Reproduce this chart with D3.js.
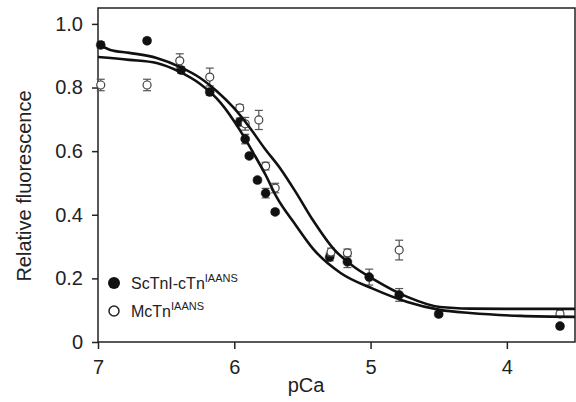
<!DOCTYPE html>
<html>
<head>
<meta charset="utf-8">
<script src="https://cdnjs.cloudflare.com/ajax/libs/d3/7.8.5/d3.min.js"></script>
<style>
  body { margin: 0; background: #fff; }
  svg text { font-family: "Liberation Sans", Arial, Helvetica, sans-serif; fill: #222; }
</style>
</head>
<body>
<div id="plotDiv"></div>
<script>
// measured points: pCa, relative fluorescence, error (SEM)
var scPca = [6.98, 6.64, 6.39, 6.18, 5.96, 5.92, 5.89, 5.83, 5.77, 5.70, 5.30, 5.17, 5.01, 4.79, 4.50, 3.61];
var scVal = [0.934, 0.947, 0.855, 0.786, 0.692, 0.638, 0.585, 0.509, 0.468, 0.409, 0.267, 0.252, 0.204, 0.148, 0.088, 0.050];
var scErr = [0.010, 0.008, 0.010, 0.010, 0.012, 0.015, 0.008, 0.008, 0.015, 0.008, 0.012, 0.018, 0.025, 0.020, 0.008, 0.008];

var mcPca = [6.98, 6.64, 6.40, 6.18, 5.96, 5.92, 5.82, 5.77, 5.70, 5.29, 5.17, 4.79, 3.61];
var mcVal = [0.808, 0.808, 0.884, 0.833, 0.736, 0.686, 0.698, 0.553, 0.484, 0.283, 0.280, 0.289, 0.088];
var mcErr = [0.018, 0.018, 0.022, 0.028, 0.010, 0.020, 0.030, 0.012, 0.015, 0.012, 0.012, 0.031, 0.010];

// fitted curves
var fitUpperPca = [7.00, 6.91, 6.77, 6.57, 6.40, 6.25, 6.13, 6.01, 5.89, 5.78, 5.66, 5.55, 5.42, 5.27, 5.13, 4.98, 4.73, 4.49, 4.27, 3.90, 3.50];
var fitUpperVal = [0.937, 0.918, 0.909, 0.893, 0.865, 0.830, 0.789, 0.739, 0.676, 0.610, 0.544, 0.472, 0.381, 0.292, 0.239, 0.198, 0.142, 0.110, 0.105, 0.104, 0.104];
var fitLowerPca = [7.00, 6.77, 6.57, 6.40, 6.25, 6.10, 5.96, 5.86, 5.77, 5.69, 5.55, 5.42, 5.22, 4.98, 4.73, 4.49, 4.27, 3.90, 3.50];
var fitLowerVal = [0.896, 0.887, 0.877, 0.849, 0.811, 0.752, 0.667, 0.594, 0.525, 0.456, 0.368, 0.292, 0.217, 0.167, 0.126, 0.101, 0.091, 0.082, 0.079];

var xTicks = [7, 6, 5, 4];
var yTicks = [0, 0.2, 0.4, 0.6, 0.8, 1.0];
var yTickLabels = ["0", "0.2", "0.4", "0.6", "0.8", "1.0"];

var margin = {top: 8, right: 1, bottom: 60, left: 98},
    width = 576 - margin.left - margin.right,
    height = 402 - margin.top - margin.bottom;

var x = d3.scaleLinear().domain([7, 3.5]).range([0, width]);
var y = d3.scaleLinear().domain([0, 1.05]).range([height, 0]);

var svg = d3.select("#plotDiv")
    .append("svg")
        .attr("width", 576)
        .attr("height", 402)
    .append("g")
        .attr("transform", "translate(" + margin.left + "," + margin.top + ")");

// axes
var xAxis = svg.append("g")
    .attr("transform", "translate(0," + height + ")")
    .call(d3.axisBottom(x).tickValues(xTicks).tickFormat(d3.format("d")).tickSize(7).tickPadding(11));
var yAxis = svg.append("g")
    .call(d3.axisLeft(y).tickValues(yTicks).tickFormat(function(d, i) { return yTickLabels[i]; }).tickSize(6).tickPadding(9));

[xAxis, yAxis].forEach(function(a) {
    a.select(".domain").remove();
    a.selectAll("line").attr("stroke", "#222").attr("stroke-width", 1.5);
    a.selectAll("text").style("font-size", "20px").attr("fill", "#222");
});

// frame
svg.append("rect")
    .attr("x", 0).attr("y", 0)
    .attr("width", width).attr("height", height)
    .attr("fill", "none")
    .attr("stroke", "#222")
    .attr("stroke-width", 1.5);

// axis titles
svg.append("text")
    .attr("transform", "translate(" + (31 - margin.left) + "," + (186 - margin.top) + ") rotate(-90)")
    .attr("text-anchor", "middle")
    .style("font-size", "20px")
    .text("Relative fluorescence");
svg.append("text")
    .attr("x", 306 - margin.left)
    .attr("y", 392 - margin.top)
    .attr("text-anchor", "middle")
    .style("font-size", "20px")
    .text("pCa");

function drawSeries(pca, val, err, filled) {
    var pts = pca.map(function(p, i) { return {p: p, v: val[i], e: err[i]}; });
    var g = svg.append("g");
    var bars = g.selectAll("g.err").data(pts).enter().append("g")
        .attr("stroke", "#555").attr("stroke-width", 1.2);
    bars.append("line")
        .attr("x1", function(d) { return x(d.p); }).attr("x2", function(d) { return x(d.p); })
        .attr("y1", function(d) { return y(d.v + d.e); }).attr("y2", function(d) { return y(d.v - d.e); });
    bars.append("line")
        .attr("x1", function(d) { return x(d.p) - 4; }).attr("x2", function(d) { return x(d.p) + 4; })
        .attr("y1", function(d) { return y(d.v + d.e); }).attr("y2", function(d) { return y(d.v + d.e); });
    bars.append("line")
        .attr("x1", function(d) { return x(d.p) - 4; }).attr("x2", function(d) { return x(d.p) + 4; })
        .attr("y1", function(d) { return y(d.v - d.e); }).attr("y2", function(d) { return y(d.v - d.e); });
    g.selectAll("circle").data(pts).enter().append("circle")
        .attr("cx", function(d) { return x(d.p); })
        .attr("cy", function(d) { return y(d.v); })
        .attr("r", filled ? 4.5 : 4)
        .attr("fill", filled ? "#111" : "#fff")
        .attr("stroke", filled ? "#111" : "#444")
        .attr("stroke-width", filled ? 0.5 : 1.2);
}

drawSeries(scPca, scVal, scErr, true);
drawSeries(mcPca, mcVal, mcErr, false);

// fit lines
var line = d3.line()
    .x(function(d) { return x(d[0]); })
    .y(function(d) { return y(d[1]); })
    .curve(d3.curveMonotoneX);

[[fitUpperPca, fitUpperVal], [fitLowerPca, fitLowerVal]].forEach(function(f) {
    svg.append("path")
        .datum(f[0].map(function(p, i) { return [p, f[1][i]]; }))
        .attr("fill", "none")
        .attr("stroke", "#111")
        .attr("stroke-width", 2.6)
        .attr("d", line);
});

// legend
var legend = svg.append("g").attr("transform", "translate(" + (114 - margin.left) + "," + (283 - margin.top) + ")");
legend.append("circle").attr("cx", 0).attr("cy", 0).attr("r", 6).attr("fill", "#111");
legend.append("circle").attr("cx", 0).attr("cy", 28).attr("r", 5).attr("fill", "#fff")
    .attr("stroke", "#222").attr("stroke-width", 1.5);
var t1 = legend.append("text").attr("x", 17).attr("y", 6).style("font-size", "16px");
t1.append("tspan").text("ScTnI-cTn");
t1.append("tspan").attr("dy", -7).style("font-size", "11px").text("IAANS");
var t2 = legend.append("text").attr("x", 17).attr("y", 34).style("font-size", "16px");
t2.append("tspan").text("McTn");
t2.append("tspan").attr("dy", -7).style("font-size", "11px").text("IAANS");
</script>
</body>
</html>
